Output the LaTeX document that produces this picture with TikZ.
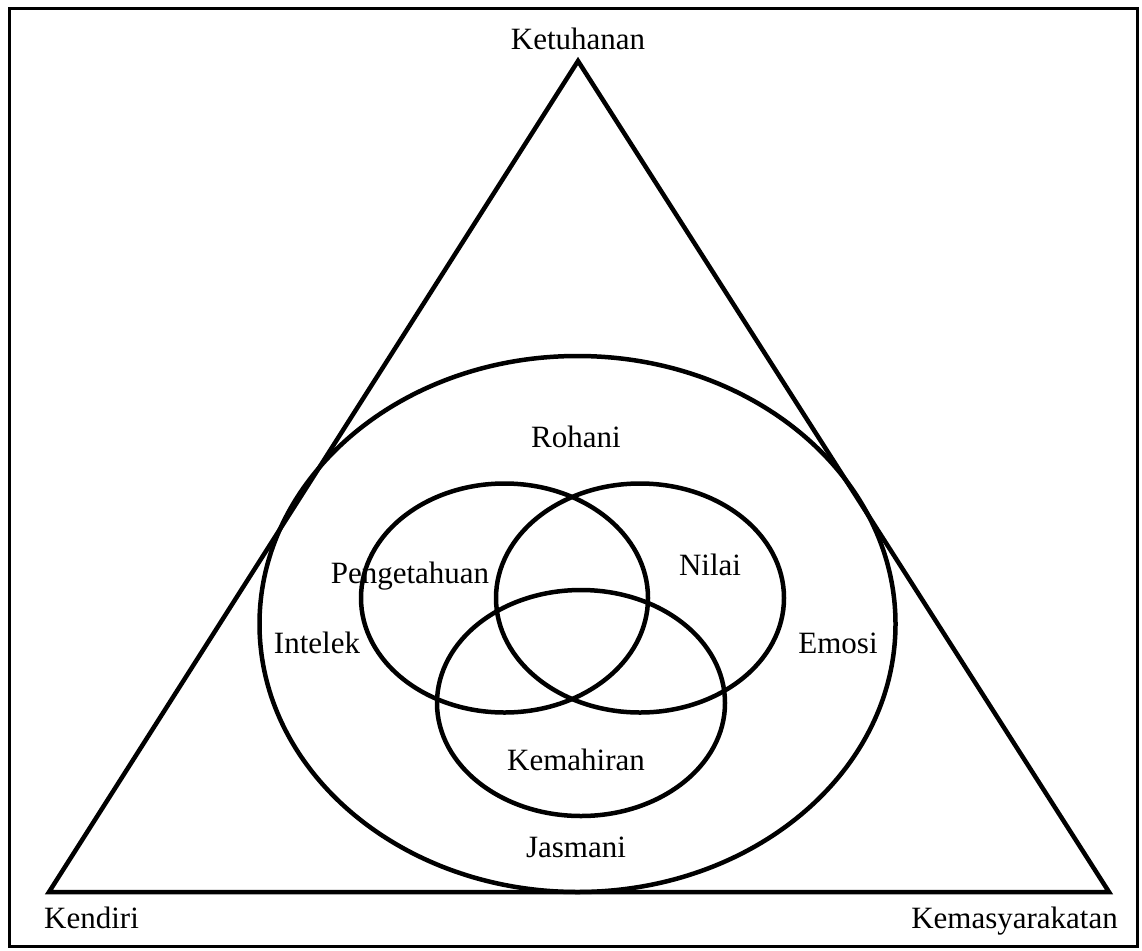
\documentclass[tikz,border=0pt]{standalone}
\usepackage{fontspec}
\setmainfont{Liberation Serif}
\begin{document}
\begin{tikzpicture}[x=1pt,y=-1pt,
  lbl/.style={font=\fontsize{31}{37}\selectfont, inner sep=0pt, anchor=base},
  shapeline/.style={line width=4.5pt},
  frameline/.style={line width=3.5pt}]
\useasboundingbox (0,0) rectangle (1142,950);
% frame
\draw[frameline] (9.5,8.5) rectangle (1137.5,946.5);
% triangle
\coordinate (top) at (578,61);
\coordinate (bl) at (49,892);
\coordinate (br) at (1109,892);
\draw[shapeline, line join=miter] (top) -- (br) -- (bl) -- cycle;
% big ellipse
\draw[shapeline] (577.5,624) ellipse [x radius=318, y radius=268];
% three circles
\draw[shapeline] (504.5,598) ellipse [x radius=143.5, y radius=114.5];
\draw[shapeline] (640,598) ellipse [x radius=144, y radius=114.5];
\draw[shapeline] (581,703) ellipse [x radius=144, y radius=113];
% labels
\node[lbl] (ketuhanan) at (578,50) {Ketuhanan};
\node[lbl, anchor=base west] (kendiri) at (44,928) {Kendiri};
\node[lbl, anchor=base east] (kemasy) at (1118,928) {Kemasyarakatan};
\node[lbl] (rohani) at (576,447) {Rohani};
\node[lbl] (pengetahuan) at (410,583) {Pengetahuan};
\node[lbl] (nilai) at (710,575) {Nilai};
\node[lbl] (intelek) at (317,653) {Intelek};
\node[lbl] (emosi) at (838,653) {Emosi};
\node[lbl] (kemahiran) at (576,770) {Kemahiran};
\node[lbl] (jasmani) at (576,857) {Jasmani};
\end{tikzpicture}
\end{document}
